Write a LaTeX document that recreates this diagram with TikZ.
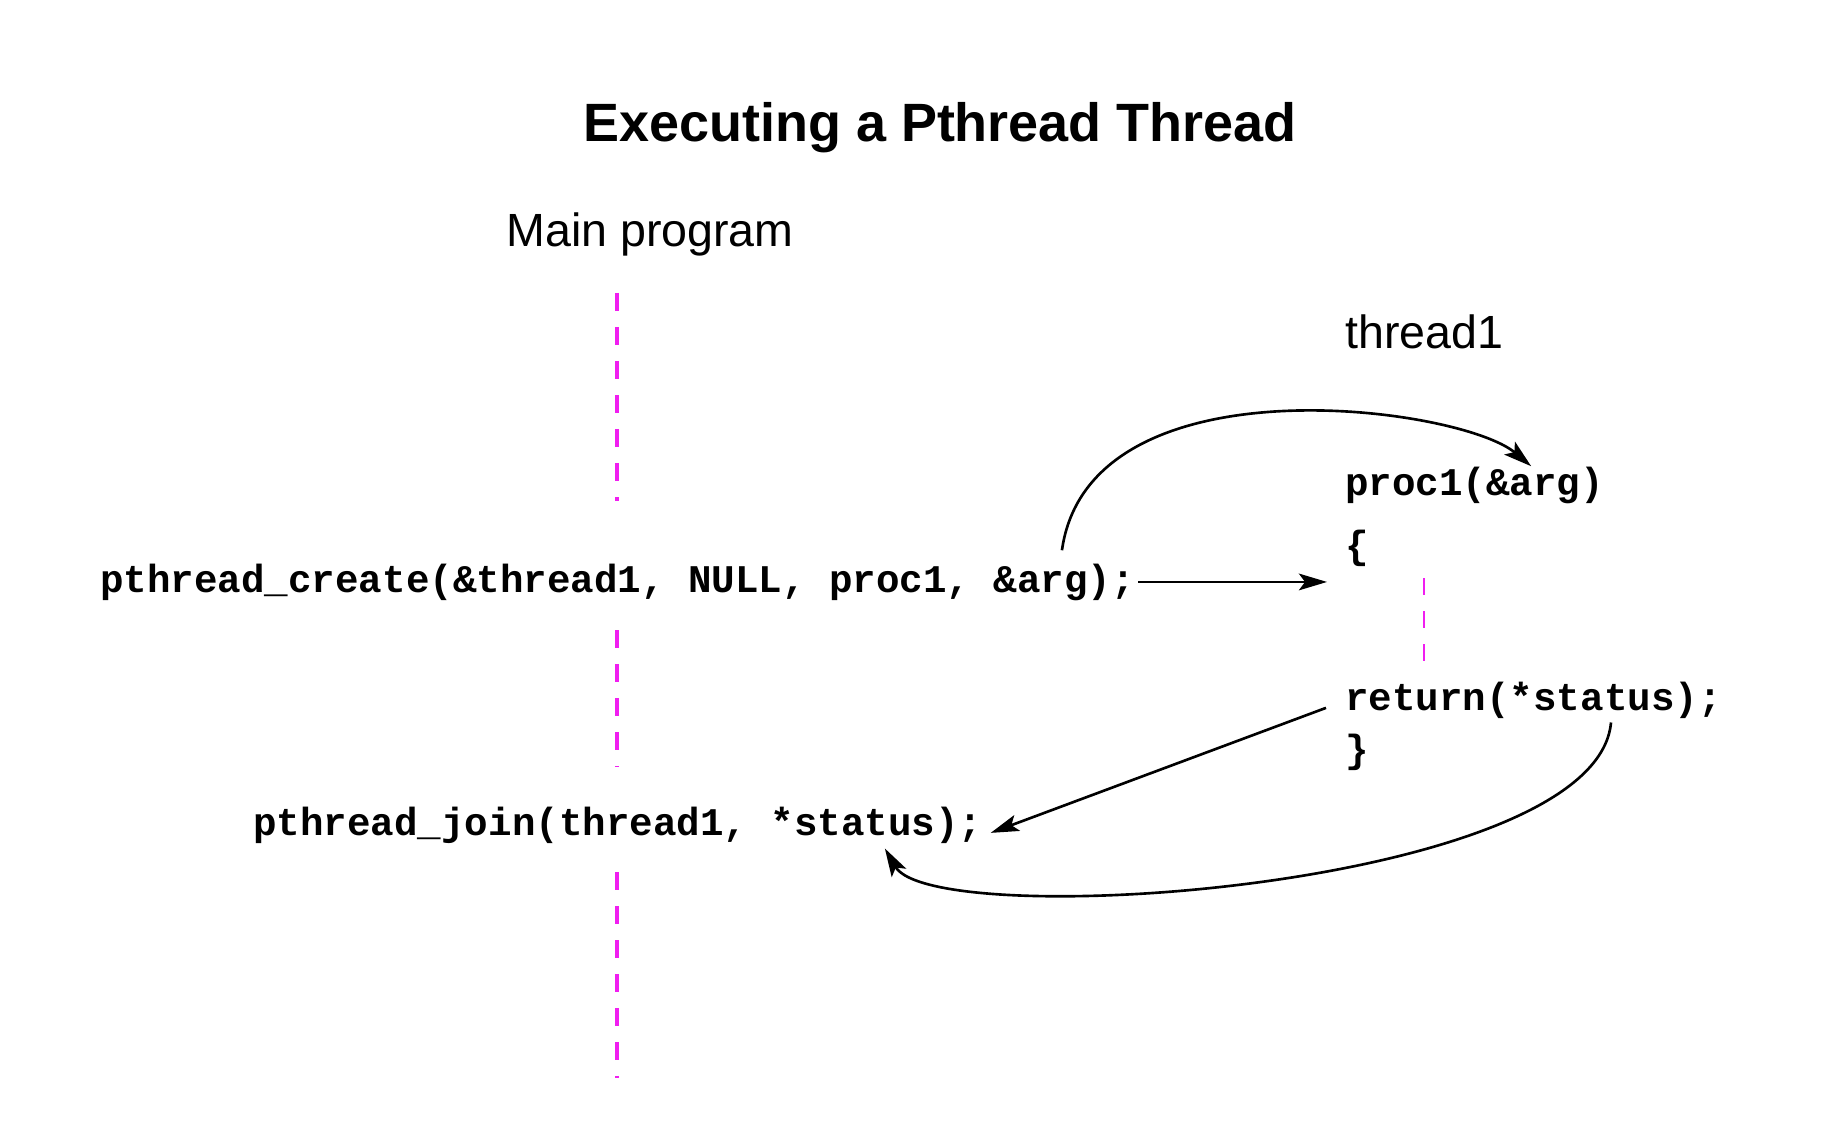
\documentclass[tikz,border=0pt]{standalone}
\usepackage{fontspec}
\setmainfont{Liberation Sans}
\setmonofont{Liberation Mono}
\usetikzlibrary{arrows.meta}
\definecolor{lifepink}{RGB}{240,30,240}

\begin{document}
\begin{tikzpicture}[x=0.2mm,y=-0.2mm,
  codetext/.style={font=\ttfamily\bfseries\fontsize{22.3}{26}\selectfont,inner sep=0,anchor=base west},
  sidetext/.style={font=\fontsize{26.5}{30}\selectfont,inner sep=0,anchor=base west},
  lifeline/.style={draw=lifepink,line width=2.6pt,dash pattern=on 3.6mm off 3.2mm},
  thinlife/.style={draw=lifepink,line width=1.5pt,dash pattern=on 3.4mm off 3.2mm},
  callarrow/.style={-{Stealth[length=16pt,width=9.5pt,inset=3.5pt]},line width=1.5pt}]
\useasboundingbox (0,0) rectangle (1830,1132);

\node[font=\bfseries\fontsize{30.7}{36}\selectfont,inner sep=0,anchor=base](title) at (940,142) {Executing a Pthread Thread};
\node[sidetext](mainlbl) at (506,247) {Main program};
\node[sidetext](threadlbl) at (1345,349) {thread1};

\node[codetext](create) at (100,592) {pthread\_create(\&thread1, NULL, proc1, \&arg);};
\node[codetext](join) at (253,835) {pthread\_join(thread1, *status);};

\node[codetext](proc) at (1345,495) {proc1(\&arg)};
\node[codetext](lbrace) at (1345,558) {\{};
\node[codetext](return) at (1345,710) {return(*status);};
\node[codetext](rbrace) at (1345,762) {\}};

% lifelines
\draw[lifeline] (617,293) -- (617,501);
\draw[lifeline] (617,630) -- (617,767);
\draw[lifeline] (617,872) -- (617,1078);
\draw[thinlife] (1424,578) -- (1424,662);

\draw[callarrow] ([xshift=0.6mm]create.east) -- ([xshift=-3.6mm]create.east -| proc.west);
\draw[callarrow] ([xshift=-14.7mm,yshift=2.6mm]create.north east) to[out=82,in=140,out looseness=1.05,in looseness=0.5] ([xshift=11.3mm]proc.north);
\draw[callarrow] ([xshift=-3.8mm,yshift=-1.6mm]return.west) -- ([xshift=1.6mm,yshift=-1.6mm]join.east);
\draw[callarrow] ([xshift=15.5mm,yshift=-0.8mm]return.south) to[out=265,in=300,out looseness=0.58,in looseness=0.34] ([xshift=53.4mm,yshift=-1mm]join.south);
\end{tikzpicture}
\end{document}
